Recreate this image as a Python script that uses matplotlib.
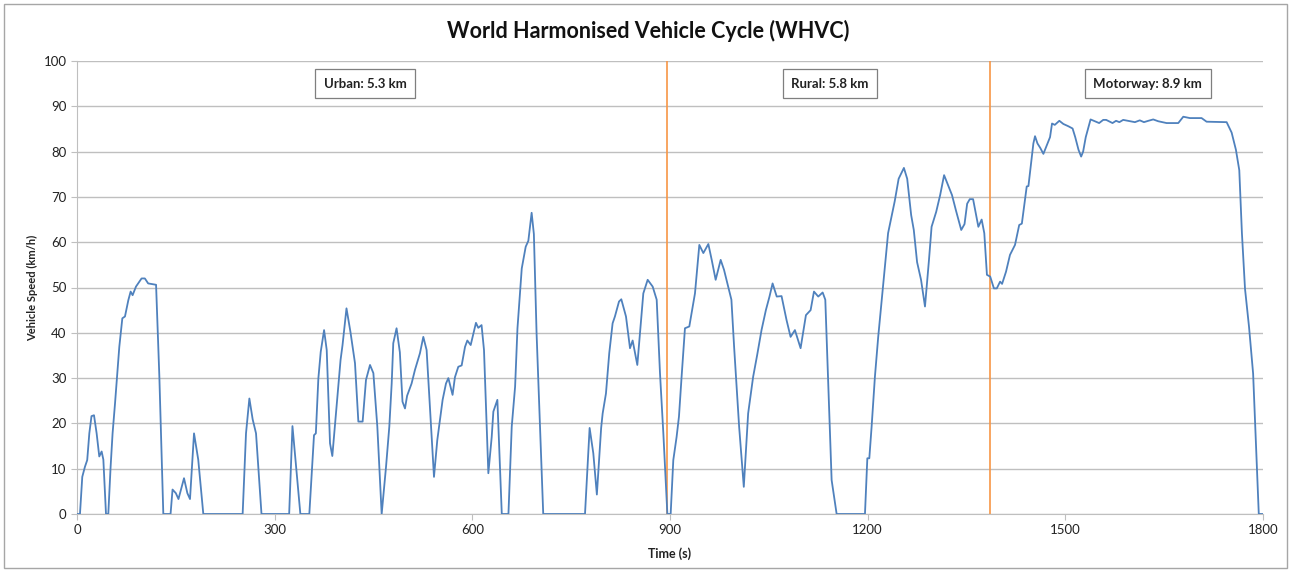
import matplotlib.pyplot as plt
from matplotlib.patches import Rectangle

# speed trace (s, km/h)
time_s = [0, 4.5, 8, 12, 15.5, 18.7, 22, 25.8, 29.8, 33.8, 37.4, 40, 44, 47.5,
          51, 54, 57.7, 64.2, 68.8, 72.8, 77.9, 81.4, 84.4, 89.5, 98, 103, 108,
          120, 125, 131, 142, 145, 150, 154, 162.4, 167.5, 171.5, 177.6, 184,
          191.7, 251.4, 256.5, 261.6, 266.6, 271.7, 280, 322, 327, 339, 352.6,
          359.7, 362.5, 366.3, 369.9, 375, 379, 384, 387.5, 393, 400, 403, 409,
          415, 421.9, 427, 433.5, 438.6, 444.7, 449.8, 455.8, 462.4, 469, 474,
          477.6, 480, 485, 490, 494, 497.8, 501, 507.8, 512.9, 520.5, 525.6,
          530.6, 541.8, 546.8, 554.9, 560, 563.6, 570, 573.6, 578.7, 583.8,
          588.9, 592.4, 597.5, 605.5, 609, 614, 617.7, 624.3, 629.4, 631.9, 638,
          644.7, 654.8, 659.8, 664.9, 668.5, 675, 681, 685, 690, 693.4, 697.5,
          707.6, 771, 778, 783.6, 789, 795.5, 797.8, 802.8, 807.8, 812.9, 816.4,
          822.6, 826.1, 833.2, 839.3, 843.3, 850.4, 859.5, 866.1, 873.7, 879.8,
          884.8, 889.9, 896, 901, 905, 910, 913.6, 917.6, 922.7, 929.3, 937.9,
          944.5, 950.6, 958.2, 963.3, 969.3, 976.9, 982, 993.2, 997.3, 1004.9,
          1012, 1018.6, 1026.2, 1032.3, 1038.9, 1045.5, 1051, 1055.7, 1062,
          1069.3, 1076.9, 1083, 1089.6, 1098.2, 1106.3, 1113.4, 1118.5, 1125,
          1131.7, 1135.7, 1140.3, 1145.3, 1152.9, 1195.9, 1199.5, 1202.5, 1206,
          1211, 1216, 1222.7, 1231, 1241, 1247, 1255, 1260, 1266, 1270, 1275,
          1281, 1287, 1293, 1297, 1304, 1310, 1316, 1322, 1328, 1334, 1342, 1347,
          1351, 1355, 1360, 1368, 1373, 1377, 1381, 1386, 1391.6, 1396, 1401,
          1404, 1410, 1416, 1423.6, 1430, 1434, 1441.4, 1444, 1451.5, 1454,
          1457.7, 1462, 1466.7, 1471.8, 1476.8, 1479.8, 1484, 1490.9, 1497,
          1504.5, 1511, 1515, 1520, 1524, 1527, 1531, 1538.3, 1545, 1551.3,
          1557.5, 1562, 1571.6, 1577, 1582, 1587.8, 1598, 1605.6, 1613, 1619.3,
          1626, 1633.4, 1641, 1653.7, 1671.4, 1679, 1689, 1706.8, 1714.4, 1744.8,
          1752.4, 1758.9, 1764, 1768, 1772.7, 1778.8, 1785, 1791, 1793.6, 1800]
speed_kmh = [0, 0, 8.2, 10.4, 11.9, 17.8, 21.6, 21.8, 17.8, 12.7, 13.8, 12, 0, 0,
             10.4, 17.8, 24.4, 36.9, 43.2, 43.6, 47.2, 49.1, 48.3, 50.2, 52, 52,
             50.9, 50.6, 30.3, 0, 0, 5.4, 4.6, 3.3, 7.9, 4.6, 3.3, 17.8, 12,
             0, 0, 17.8, 25.5, 20.9, 17.8, 0, 0, 19.4, 0, 0,
             17.4, 17.8, 29.9, 35.8, 40.6, 36.2, 15.6, 12.8, 22.2, 34, 37.3, 45.4,
             40.2, 33.3, 20.4, 20.4, 29.6, 32.9, 31.1, 19.3, 0, 10.4, 19.3,
             28.8, 37.7, 41, 35.7, 24.8, 23.3, 26.1, 28.8, 31.8, 35.5, 39.1,
             36.2, 8.2, 16.3, 25.2, 28.8, 30, 26.3, 30.2, 32.5, 32.8,
             36.9, 38.3, 37.3, 42.2, 41.1, 41.7, 36.2, 9, 17, 22.6, 25.2,
             0, 0, 19.3, 28.1, 41, 54.2, 59, 60.3, 66.5, 61.8, 39.9,
             0, 0, 19, 13.4, 4.3, 19, 22.2, 26.6, 35.5, 42.1, 43.6,
             46.9, 47.4, 43.6, 36.6, 38.3, 32.9, 48.7, 51.7, 50.2, 47.3,
             31.1, 17.8, 0, 0, 11.9, 17, 21.5, 30.3, 41, 41.4, 48.7,
             59.4, 57.6, 59.6, 56.1, 51.7, 56.1, 53.9, 47.3, 36.9, 19.3,
             6, 22.2, 30.3, 35.1, 40.6, 45, 48, 50.9, 48,
             48.1, 42.8, 39.1, 40.6, 36.6, 43.9, 45, 49.1, 48,
             48.9, 47.3, 28.1, 7.5, 0, 0, 12.3, 12.3, 19.3,
             30.3, 39.1, 49.4, 62, 69, 74, 76.4, 74, 66, 62.7, 55.6,
             51.7, 45.8, 56, 63.4, 66.7, 70.4, 74.8, 72.6, 70.4, 67, 62.7, 64,
             68.5, 69.5, 69.5, 63.4, 65, 62, 52.8, 52.4, 49.8, 49.8, 51.3,
             50.8, 53.5, 57.2, 59.4, 63.8, 64.1, 72.3, 72.4, 81.8, 83.4,
             81.8, 80.8, 79.5, 81.4, 83.2, 86.2, 85.9, 86.8, 86.1,
             85.6, 85.1, 83.2, 80.4, 78.9, 80, 83.2, 87.1, 86.7, 86.3,
             87, 87, 86.3, 86.8, 86.5, 87, 86.7, 86.5, 86.9, 86.5,
             86.8, 87.1, 86.7, 86.3, 86.3, 87.7, 87.4, 87.4, 86.6, 86.5,
             84.2, 80.4, 75.9, 62, 49.7, 41.3, 31, 9, 0, 0]

# phase boundaries and labels
boundaries = [895, 1385]
phase_labels = ["Urban: 5.3 km", "Rural: 5.8 km", "Motorway: 8.9 km"]
label_t = [437, 1143, 1625]
label_v = [95.0, 95.0, 95.0]

font = ["Lato", "DejaVu Sans"]
plt.rcParams["font.family"] = font

fig = plt.figure(figsize=(12.9, 5.71), dpi=100)
ax = fig.add_axes([77 / 1290, 1 - 514 / 571, 1186 / 1290, 453 / 571])

ax.plot(time_s, speed_kmh, color="#4F81BD", lw=1.3, zorder=3,
        solid_joinstyle="round")
for b in boundaries:
    ax.axvline(b, color="#F79646", lw=1.2, zorder=2)

for t, v, s in zip(label_t, label_v, phase_labels):
    ax.text(t, v, s, ha="center", va="center", fontsize=9.5, fontweight="bold",
            color="#222222", zorder=4,
            bbox=dict(boxstyle="square,pad=0.65", fc="white", ec="#7F7F7F", lw=0.9))

ax.set_xlim(0, 1800)
ax.set_ylim(0, 100)
ax.set_xticks(range(0, 1801, 300))
ax.set_yticks(range(0, 101, 10))
ax.grid(axis="y", color="#BFBFBF", lw=1)
ax.set_axisbelow(True)
for s in ["top", "right"]:
    ax.spines[s].set_visible(False)
for s in ["left", "bottom"]:
    ax.spines[s].set_color("#BFBFBF")
ax.tick_params(colors="#BFBFBF", labelcolor="#222222", labelsize=9.5, length=4)

ax.set_xlabel("Time (s)", fontsize=9, fontweight="bold", color="#222222", labelpad=8)
ax.set_ylabel("Vehicle Speed (km/h)", fontsize=8, fontweight="bold", color="#222222", labelpad=4)
fig.text(648 / 1290, 1 - 31 / 571, "World Harmonised Vehicle Cycle (WHVC)",
         ha="center", va="center", fontsize=15.5, fontweight="bold", color="#111111")

# chart border
fig.patches.append(Rectangle((4 / 1290, 3 / 571), 1283 / 1290, 564 / 571,
                             transform=fig.transFigure, fill=False, ec="#A6A6A6", lw=1))

fig.savefig("out.png", dpi=100)
